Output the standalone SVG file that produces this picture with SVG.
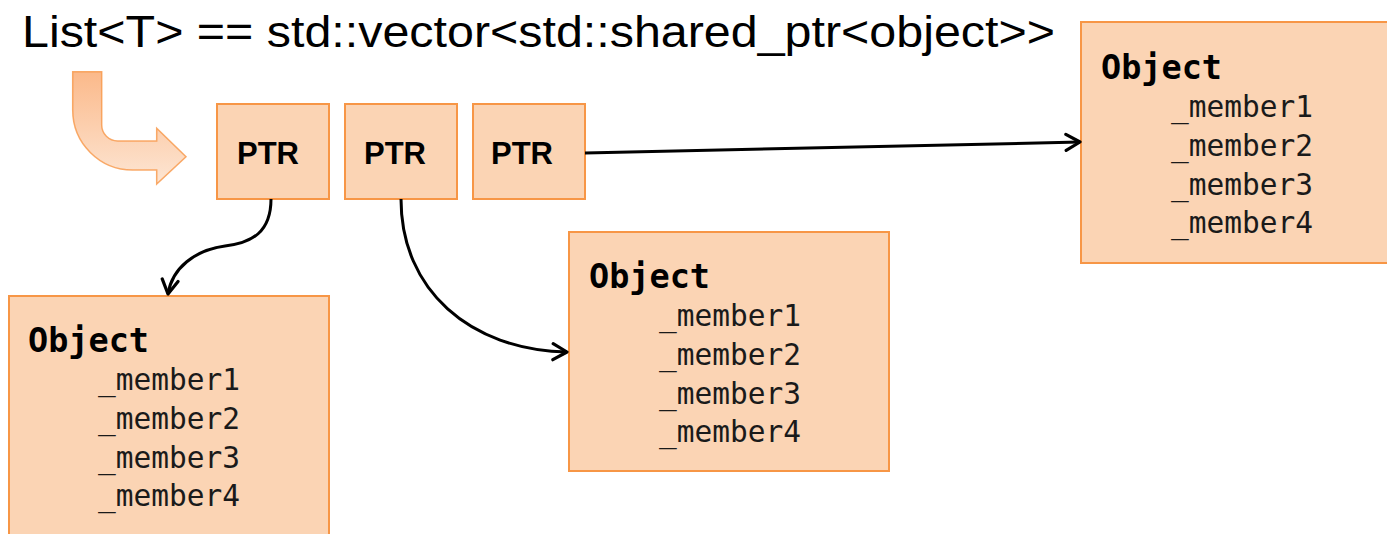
<svg xmlns="http://www.w3.org/2000/svg" width="1387" height="534" viewBox="0 0 1387 534">
<style>
.box{fill:#FBD4B4;stroke:#F79646;stroke-width:2}
.ptr{font-family:"Liberation Sans",Arial,sans-serif;font-weight:bold;font-size:31px;fill:#000;text-anchor:middle}
.obj{font-family:"DejaVu Sans Mono","Liberation Mono",monospace;font-weight:bold;font-size:33.5px;fill:#000}
.mem{font-family:"DejaVu Sans Mono","Liberation Mono",monospace;font-size:29.5px;fill:#1a1a1a}
.con{fill:none;stroke:#000;stroke-width:3;marker-end:url(#arr)}
.title{font-family:"Liberation Sans",Arial,sans-serif;font-size:44px;fill:#000}
</style>
<defs>
<marker id="arr" viewBox="0 0 20 20" refX="17" refY="10" markerWidth="20" markerHeight="20" markerUnits="userSpaceOnUse" orient="auto">
<path d="M3,2 L17,10 L3,18" fill="none" stroke="#000" stroke-width="3.2" stroke-linecap="round" stroke-linejoin="round"/>
</marker>
<linearGradient id="g" x1="0" y1="0" x2="0" y2="1">
<stop offset="0" stop-color="#FBB98A"/>
<stop offset="1" stop-color="#FDE6D4"/>
</linearGradient>
</defs>
<rect width="1387" height="534" fill="#fff"/>
<text id="title" class="title" x="22" y="47" textLength="1033" lengthAdjust="spacingAndGlyphs">List&lt;T&gt; == std::vector&lt;std::shared_ptr&lt;object&gt;&gt;</text>
<g id="bent-arrow">
<path d="M72.7,71.7 H101.7 V125 A16,16 0 0 0 117.7,141 H156.7 V128.3 L186,156.7 L156.7,184 V170 H132.7 A60,60 0 0 1 72.7,110 Z" fill="url(#g)" stroke="#F79646" stroke-width="1.5" stroke-opacity="0.8"/>
</g>
<g id="ptr1"><rect class="box" x="217" y="104" width="112" height="95"/><text class="ptr" x="268" y="164">PTR</text></g>
<g id="ptr2"><rect class="box" x="345" y="104" width="112" height="95"/><text class="ptr" x="395" y="164">PTR</text></g>
<g id="ptr3"><rect class="box" x="473" y="104" width="112" height="95"/><text class="ptr" x="522" y="164">PTR</text></g>
<g id="obj-right">
<rect class="box" x="1081" y="22" width="310" height="241"/>
<text class="obj" x="1101" y="79">Object</text>
<text class="mem" x="1171" y="117">_member1</text>
<text class="mem" x="1171" y="156">_member2</text>
<text class="mem" x="1171" y="195">_member3</text>
<text class="mem" x="1171" y="233">_member4</text>
</g>
<g id="obj-mid">
<rect class="box" x="569" y="232" width="320" height="239"/>
<text class="obj" x="589" y="288">Object</text>
<text class="mem" x="659" y="326">_member1</text>
<text class="mem" x="659" y="365">_member2</text>
<text class="mem" x="659" y="404">_member3</text>
<text class="mem" x="659" y="442">_member4</text>
</g>
<g id="obj-left">
<rect class="box" x="9" y="296" width="320" height="250"/>
<text class="obj" x="28" y="352">Object</text>
<text class="mem" x="98" y="390">_member1</text>
<text class="mem" x="98" y="429">_member2</text>
<text class="mem" x="98" y="468">_member3</text>
<text class="mem" x="98" y="506">_member4</text>
</g>
<g id="connectors">
<path class="con" d="M271,199 C271,232 252,243 225,246 C195,250 172,268 168,294"/>
<path class="con" d="M401,199 C401,290 470,350 567,352"/>
<path class="con" d="M585,153 L1080,142"/>
</g>
</svg>
